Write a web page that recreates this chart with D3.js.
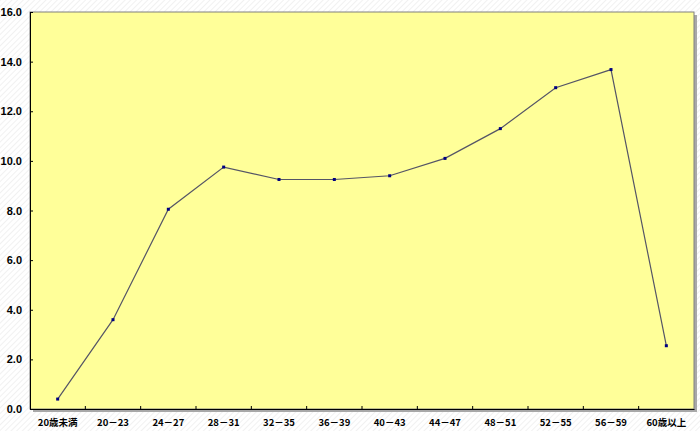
<!DOCTYPE html>
<html><head><meta charset="utf-8">
<script src="https://cdn.jsdelivr.net/npm/d3@7/dist/d3.min.js"></script>
<style>body{margin:0;}svg{display:block;}</style>
</head><body>
<svg id="chart" width="700" height="431"></svg>
<script>
const categories = ["20歳未満","20－23","24－27","28－31","32－35","36－39","40－43","44－47","48－51","52－55","56－59","60歳以上"];
const values = [0.4, 3.6, 8.05, 9.75, 9.25, 9.25, 9.4, 10.1, 11.3, 12.95, 13.68, 2.55];
const yTicks = [0, 2, 4, 6, 8, 10, 12, 14, 16];

const svg = d3.select("#chart");
const W = 700, H = 431;
const m = {left: 30, top: 12, right: 694, bottom: 409};

const defs = svg.append("defs");
const pat = defs.append("pattern").attr("id","hatch").attr("patternUnits","userSpaceOnUse")
  .attr("width",4).attr("height",4).attr("patternTransform","rotate(-45)");
pat.append("rect").attr("width",4).attr("height",4).attr("fill","#ffffff");
pat.append("line").attr("x1",0).attr("y1",0).attr("x2",4).attr("y2",0).attr("stroke","#e4e4e4").attr("stroke-width",1);
svg.append("rect").attr("width",W).attr("height",H).attr("fill","url(#hatch)");

const x = d3.scaleBand().domain(categories).range([m.left, m.right]);
const y = d3.scaleLinear().domain([0,16]).range([m.bottom, m.top]);

// shadow
svg.append("rect").attr("x", m.left+3).attr("y", m.top+3).attr("width", m.right-m.left).attr("height", m.bottom-m.top)
  .attr("fill","#a8a8a8");
svg.append("rect").attr("x", m.left).attr("y", m.top).attr("width", m.right-m.left).attr("height", m.bottom-m.top)
  .attr("fill","#ffff99").attr("stroke","#808080").attr("stroke-width",1);

// axes
const yAxis = d3.axisLeft(y).tickValues(yTicks).tickSizeInner(-3).tickSizeOuter(0).tickFormat(d3.format(".1f")).tickPadding(8);
const gy = svg.append("g").attr("transform",`translate(${m.left},0)`).call(yAxis);
gy.select(".domain").attr("stroke","#000");
gy.selectAll(".tick line").attr("stroke","#000");
gy.selectAll("text").attr("font-family","'Liberation Sans', Arial, sans-serif").attr("font-weight","bold").attr("font-size","11px").attr("fill","#000");

const xAxis = d3.axisBottom(x).tickSize(0).tickPadding(8);
const gx = svg.append("g").attr("transform",`translate(0,${m.bottom})`).call(xAxis);
gx.select(".domain").attr("stroke","#000");
gx.selectAll("text").attr("font-family","'Noto Sans CJK JP', 'Liberation Sans', sans-serif").attr("font-weight","bold").attr("font-size","9.5px").attr("fill","#000").attr("dy","0.9em");
// band boundary ticks (inward)
const bounds = categories.slice(1).map(c => x(c));
svg.append("g").selectAll("line").data(bounds).join("line")
  .attr("x1", d=>d).attr("x2", d=>d).attr("y1", m.bottom).attr("y2", m.bottom-3)
  .attr("stroke","#000");

const cx = c => x(c) + x.bandwidth()/2;
const line = d3.line().x((d,i)=>cx(categories[i])).y(d=>y(d));
svg.append("path").datum(values).attr("d", line).attr("fill","none").attr("stroke","#555566").attr("stroke-width",1.2);
svg.append("g").selectAll("rect").data(values).join("rect")
  .attr("x",(d,i)=>cx(categories[i])-1.5).attr("y",d=>y(d)-1.5).attr("width",3).attr("height",3).attr("fill","#000080");
</script>
</body></html>
